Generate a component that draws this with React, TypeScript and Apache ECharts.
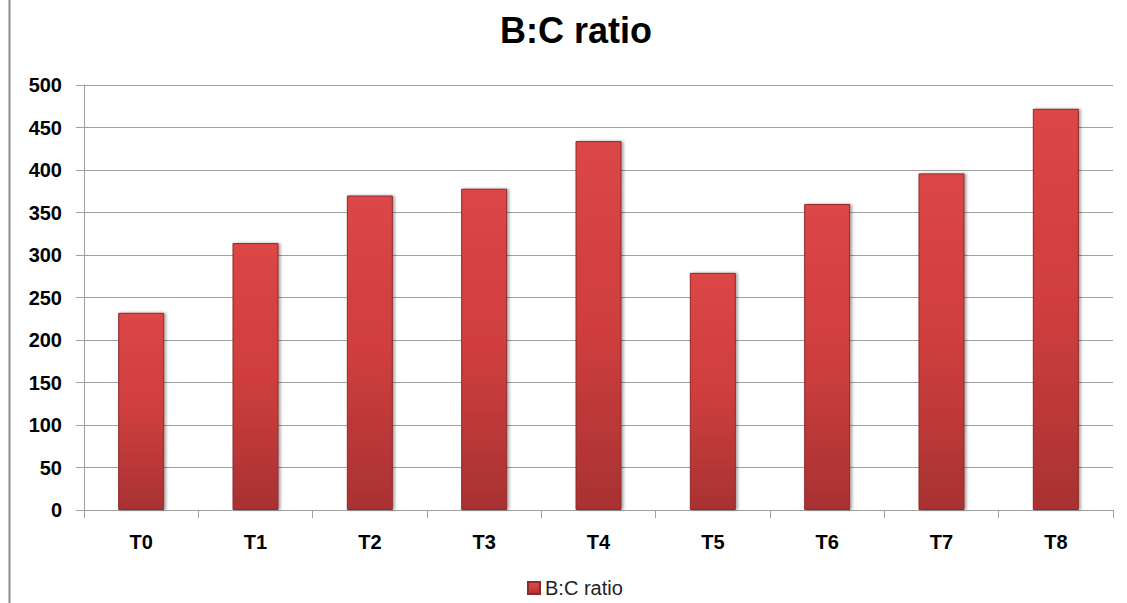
import React, { useEffect, useRef } from "react";
import * as echarts from "echarts";

const categories = ["T0", "T1", "T2", "T3", "T4", "T5", "T6", "T7", "T8"];
const values = [232, 314, 370, 378, 434, 279, 360, 396, 472];
const seriesName = "B:C ratio";
const titleText = "B:C ratio";

export default function App() {
  const ref = useRef<HTMLDivElement>(null);
  useEffect(() => {
    if (!ref.current) return;
    const chart = echarts.init(ref.current, null, { renderer: "svg" });
    const font = "'Liberation Sans', Arial, sans-serif";
    const barGrad = new echarts.graphic.LinearGradient(0, 0, 0, 1, [
      { offset: 0, color: "#dc4646" },
      { offset: 0.5, color: "#cf3e3e" },
      { offset: 1, color: "#a83232" },
    ]);
    chart.setOption({
      animation: false,
      backgroundColor: "#ffffff",
      title: {
        text: titleText,
        left: 495,
        top: 7,
        textStyle: { fontFamily: font, fontSize: 36, fontWeight: "bold", color: "#000" },
      },
      legend: {
        bottom: 0,
        left: 522,
        itemWidth: 12,
        itemHeight: 12,
        itemGap: 6,
        icon: "rect",
        textStyle: { fontFamily: font, fontSize: 20, color: "#222" },
        data: [seriesName],
      },
      grid: { left: 84, right: 14, top: 85, bottom: 93, containLabel: false },
      xAxis: {
        type: "category",
        data: categories,
        axisLine: { lineStyle: { color: "#a0a0a0", width: 1 } },
        axisTick: { show: true, alignWithLabel: false, length: 8, lineStyle: { color: "#a0a0a0" } },
        axisLabel: { fontFamily: font, fontSize: 20, fontWeight: "bold", color: "#000", margin: 22 },
      },
      yAxis: {
        type: "value",
        min: 0,
        max: 500,
        interval: 50,
        axisLine: { show: true, lineStyle: { color: "#a0a0a0", width: 1 } },
        axisTick: { show: true, length: 8, lineStyle: { color: "#a0a0a0" } },
        splitLine: { lineStyle: { color: "#a0a0a0", width: 1 } },
        axisLabel: { fontFamily: font, fontSize: 20, fontWeight: "bold", color: "#000", margin: 22 },
      },
      graphic: [
        {
          type: "line",
          shape: { x1: 9.5, y1: 0, x2: 9.5, y2: 603 },
          style: { stroke: "#8c8c8c", lineWidth: 2 },
        },
      ],
      series: [
        {
          name: seriesName,
          type: "bar",
          data: values,
          barWidth: 46,
          itemStyle: {
            color: barGrad,
            borderColor: "#8e2a2a",
            borderWidth: 1,
            shadowBlur: 3,
            shadowColor: "rgba(0,0,0,0.35)",
            shadowOffsetX: 2,
            shadowOffsetY: 0,
          },
        },
      ],
    });
    return () => chart.dispose();
  }, []);
  return (
    <div
      ref={ref}
      style={{ position: "absolute", left: 0, top: 0, width: 1127, height: 603 }}
    />
  );
}
